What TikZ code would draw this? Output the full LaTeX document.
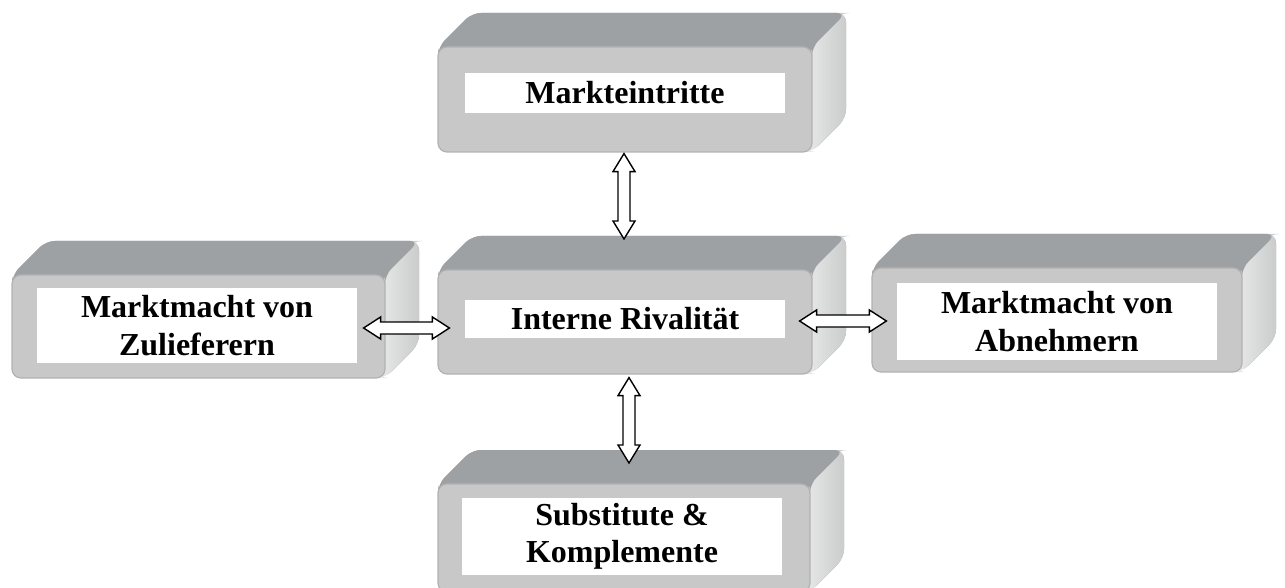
\documentclass[tikz,border=0pt]{standalone}
\usepackage{fontspec}
\setmainfont{Liberation Serif}
\usetikzlibrary{fit,calc}
\definecolor{frontc}{RGB}{200,200,200}
\definecolor{frontedge}{RGB}{178,178,178}
\definecolor{topc}{RGB}{158,161,164}
\definecolor{sidec}{RGB}{220,221,221}
\definecolor{sidehi}{RGB}{232,233,233}
\tikzset{
  frontface/.style={fill=frontc, draw=frontedge, line width=1.2pt, rounded corners=9pt, inner sep=0pt},
  labelbox/.style={fill=white, inner sep=0pt, align=center, font=\fontsize{32}{37.5}\selectfont\bfseries},
  hollow/.style={draw=black, fill=white, line width=1.4pt, line join=miter},
}
% #1 name, #2 L, #3 T, #4 R, #5 B (pixels, y downwards)
\newcommand\boxthreed[5]{%
  \fill[topc, rounded corners=9pt] (#2,#3) -- (#2+34,#3-34) -- (#4+34,#3-34) -- (#4+34,#5-34) -- (#4,#5) -- cycle;
  \shade[left color=sidehi, right color=sidec!92!black, rounded corners=9pt]
     (#4-6,#3) -- (#4+28,#3-34) -- (#4+34,#3-34) -- (#4+34,#5-34) -- (#4,#5) -- (#4-6,#5) -- cycle;
  \fill[topc, rounded corners=9pt] (#2,#3+10) -- (#2,#3) -- (#2+34,#3-34) -- (#4+34,#3-34) -- (#4+20,#3-20) -- (#4,#3) -- (#4,#3+10) -- cycle;
  \coordinate (#1-back) at ({(#2+#4)/2+34},#3-34);
  \node[frontface, fit={(#2,#3) (#4,#5)}] (#1) {};
}
% vertical hollow double arrow from (#1) down to (#2)
\newcommand\vdarrow[2]{%
  \draw[hollow] let \p1=(#1), \p2=(#2) in
    (\x1,\y1) -- (\x1+11,\y1-18) -- (\x1+6,\y1-18) -- (\x1+6,\y2+18) -- (\x1+11,\y2+18)
    -- (\x1,\y2) -- (\x1-11,\y2+18) -- (\x1-6,\y2+18) -- (\x1-6,\y1-18) -- (\x1-11,\y1-18) -- cycle;
}
% horizontal hollow double arrow from (#1) right to (#2)
\newcommand\hdarrow[2]{%
  \draw[hollow] let \p1=(#1), \p2=(#2) in
    (\x1,\y1) -- (\x1+17,\y1+11) -- (\x1+17,\y1+6) -- (\x2-17,\y1+6) -- (\x2-17,\y1+11)
    -- (\x2,\y1) -- (\x2-17,\y1-11) -- (\x2-17,\y1-6) -- (\x1+17,\y1-6) -- (\x1+17,\y1-11) -- cycle;
}
\begin{document}
\begin{tikzpicture}[x=1pt,y=-1pt]
\useasboundingbox (0,0) rectangle (1285,588);
\begin{scope}
\clip (0,0) rectangle (1285,588);
\boxthreed{top}{438}{47}{812}{152}
\boxthreed{left}{12}{275}{385}{378}
\boxthreed{mid}{438}{270}{812}{374}
\boxthreed{right}{872}{268}{1242}{372}
\boxthreed{bot}{438}{484}{810}{592}
\end{scope}

\node[labelbox, minimum width=320pt, minimum height=40pt] (toplab) at (625,93) {Markteintritte};
\node[labelbox, minimum width=320pt, minimum height=38pt] (midlab) at (625,319) {Interne Rivalität};
\node[labelbox, minimum width=320pt, minimum height=75pt] (leftlab) at (197,325.5) {Marktmacht von\\Zulieferern};
\node[labelbox, minimum width=320pt, minimum height=77pt] (rightlab) at (1057,321.5) {Marktmacht von\\Abnehmern};
\node[labelbox, minimum width=320pt, minimum height=77pt] (botlab) at (622,536.5) {Substitute \&\\Komplemente};

\coordinate (a1s) at ($(top.south)+(-1,1)$);
\coordinate (a1e) at ($(mid-back)+(-35,3)$);
\vdarrow{a1s}{a1e}
\coordinate (a2s) at ($(mid.south)+(4,3)$);
\coordinate (a2e) at ($(bot-back)+(-31,13)$);
\vdarrow{a2s}{a2e}
\coordinate (a3s) at ($(left.east)+(-22,1.5)$);
\coordinate (a3e) at ($(mid.west |- a3s)+(12,0)$);
\hdarrow{a3s}{a3e}
\coordinate (a4s) at ($(mid.east)+(-13,-1)$);
\coordinate (a4e) at ($(right.west |- a4s)+(15,0)$);
\hdarrow{a4s}{a4e}
\end{tikzpicture}
\end{document}
